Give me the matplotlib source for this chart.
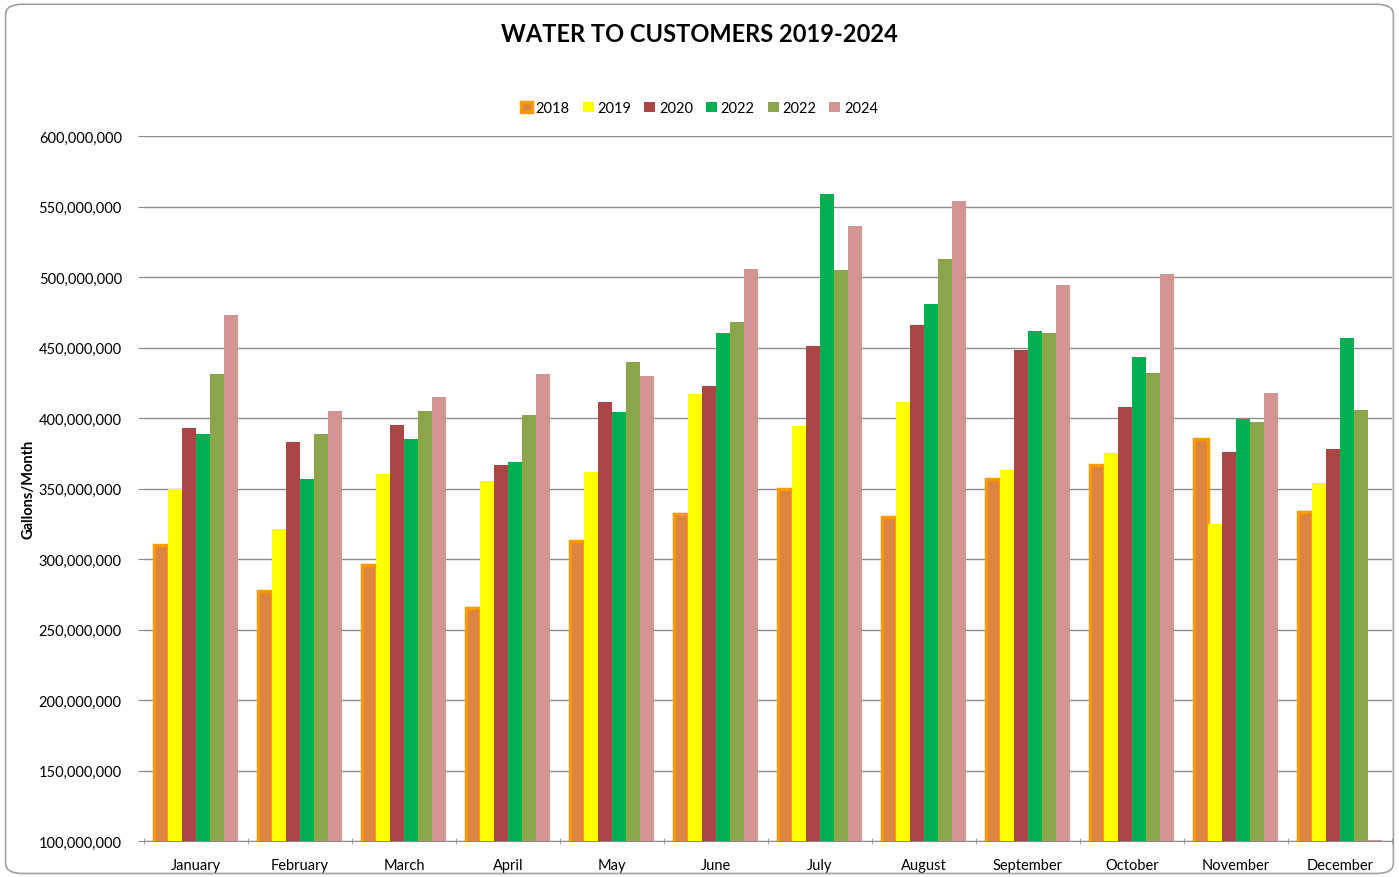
import matplotlib.pyplot as plt
import matplotlib.ticker as mticker
from matplotlib.patches import FancyBboxPatch
import numpy as np

plt.rcParams['font.family'] = ['Lato', 'DejaVu Sans']

months = ['January', 'February', 'March', 'April', 'May', 'June', 'July',
          'August', 'September', 'October', 'November', 'December']
series_names = ['2018', '2019', '2020', '2022', '2022', '2024']

v2018 = [310, 277, 296, 265, 313, 332, 350, 330, 357, 367, 385, 333]
v2019 = [350, 321, 360, 355, 362, 417, 394, 411, 363, 375, 325, 354]
v2020 = [393, 383, 395, 367, 411, 423, 451, 466, 448, 408, 376, 378]
v2022a = [389, 357, 385, 369, 404, 460, 559, 481, 462, 443, 399, 457]
v2022b = [431, 389, 405, 402, 440, 468, 505, 513, 460, 432, 397, 406]
v2024 = [473, 405, 415, 431, 430, 506, 536, 554, 494, 502, 418, 101]

values = [v2018, v2019, v2020, v2022a, v2022b, v2024]
colors = ['#DA8540', '#FFFF00', '#AA4643', '#00B050', '#8BA54A', '#D49494']
edges = ['#FF9900', 'none', 'none', 'none', 'none', 'none']

fig = plt.figure(figsize=(13.99, 8.78), dpi=100)
ax = fig.add_axes([144 / 1399, 1 - 842 / 878, 1248 / 1399, 705 / 878])

# rounded chart border
fig.patches.append(FancyBboxPatch((0.004, 0.004), 0.992, 0.99,
                                  boxstyle='round,pad=0,rounding_size=0.012',
                                  transform=fig.transFigure, fill=False,
                                  edgecolor='#A0A0A0', linewidth=1.2))

x = np.arange(len(months))
w = 0.135
for i, (vals, c, e) in enumerate(zip(values, colors, edges)):
    off = (i - 2.5) * w
    ax.bar(x + off, np.array(vals) * 1e6, width=w, color=c, edgecolor=e,
           linewidth=2.5 if e != 'none' else 0, label=series_names[i], zorder=3)

ax.set_ylim(100e6, 600e6)
ax.set_xlim(-0.5, 11.5)
ax.yaxis.set_major_locator(mticker.MultipleLocator(50e6))
ax.yaxis.set_major_formatter(mticker.FuncFormatter(lambda v, p: f'{int(v):,}'))
ax.grid(axis='y', color='#8C8C8C', linewidth=1, zorder=0)
ax.set_axisbelow(True)

ax.set_xticks(x)
ax.set_xticklabels(months, fontsize=10.5)
ax.set_xticks(np.arange(-0.5, 12, 1), minor=True)
ax.tick_params(axis='x', which='major', length=0, pad=12)
ax.tick_params(axis='x', which='minor', length=5, color='#8C8C8C', direction='inout')
ax.tick_params(axis='y', length=4, color='#8C8C8C', labelsize=10.5, pad=12)

for s in ['top', 'right', 'left']:
    ax.spines[s].set_visible(False)
ax.spines['bottom'].set_color('#8C8C8C')

ax.set_ylabel('Gallons/Month', fontsize=10.5, fontweight='bold', labelpad=2)
fig.text(0.5, 1 - 34 / 878, 'WATER TO CUSTOMERS 2019-2024', ha='center', va='center',
         fontsize=17, fontweight='bold')

ax.legend(loc='center', bbox_to_anchor=(0.5, 1 - 109 / 878), bbox_transform=fig.transFigure,
          ncol=6, frameon=False, fontsize=10.5, handlelength=0.75, handleheight=0.75,
          handletextpad=0.25, columnspacing=0.9)

fig.savefig('out.png', dpi=100)
